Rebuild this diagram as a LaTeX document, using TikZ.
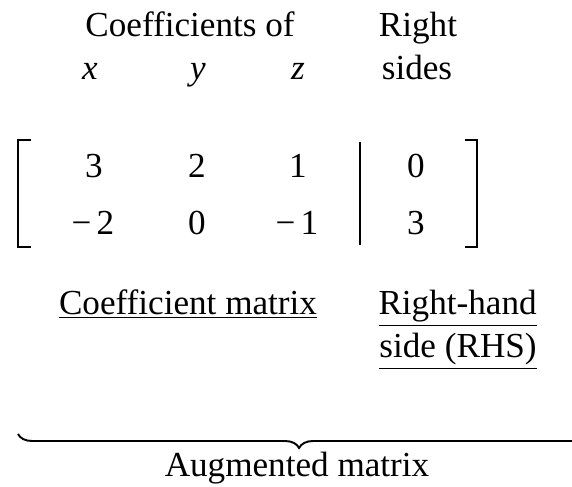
\documentclass[tikz,border=0pt]{standalone}
\usepackage{fontspec}
\setmainfont{Liberation Serif}
\usepackage{tikz}
\usetikzlibrary{positioning,decorations.pathreplacing}

\begin{document}
\begin{tikzpicture}[
  lbl/.style={anchor=base, inner sep=0pt, font=\fontsize{20}{24}\selectfont},
  ent/.style={lbl},
  brk/.style={line width=1.1pt}]
\useasboundingbox (0,0) rectangle (11.44,9.74);
% column headings
\node[lbl] (coefof) at (3.80,9.00) {Coefficients of};
\node[lbl] (right)  at (8.36,9.00) {Right};
\node[lbl] (hx) at (1.80,8.14) {\textit{x}};
\node[lbl] (hy) at (3.96,8.14) {\textit{y}};
\node[lbl] (hz) at (5.96,8.14) {\textit{z}};
\node[lbl] (sides) at (8.34,8.14) {sides};
% entries of the augmented matrix
\node[ent] (a11) at (1.88,6.18) {3};
\node[ent] (a12) at (3.94,6.18) {2};
\node[ent] (a13) at (5.96,6.18) {1};
\node[ent] (b1)  at (8.32,6.18) {0};
\node[ent] (a21) at (1.86,5.04) {−\kern0.15em 2};
\node[ent] (a22) at (3.94,5.04) {0};
\node[ent] (a23) at (5.94,5.04) {−\kern0.15em 1};
\node[ent] (b2)  at (8.32,5.04) {3};
% brackets and separating bar
\draw[brk] (0.62,6.94) -- (0.36,6.94) -- (0.36,4.80) -- (0.62,4.80);
\draw[brk] (9.30,6.94) -- (9.54,6.94) -- (9.54,4.80) -- (9.30,4.80);
\draw[brk] (7.20,6.90) -- (7.20,4.84);
% names of the parts
\node[lbl] (coefmat) at (3.76,3.44) {\underline{Coefficient matrix}};
\node[lbl, anchor=base east] (rhs1) at (10.74,3.44) {\underline{Right-hand}};
\node[lbl, anchor=base east] (rhs2) at (10.74,2.58) {\underline{side (RHS)}};
% brace under everything, running off the right edge
\coordinate (bl) at (0.36,1.06);
\coordinate (br) at (11.95,1.06);
\draw[brk, decorate, decoration={brace, mirror, amplitude=0.28cm, aspect=0.485}] (bl) -- (br);
\node[lbl] (aug) at (5.94,0.20) {Augmented matrix};
\end{tikzpicture}
\end{document}
